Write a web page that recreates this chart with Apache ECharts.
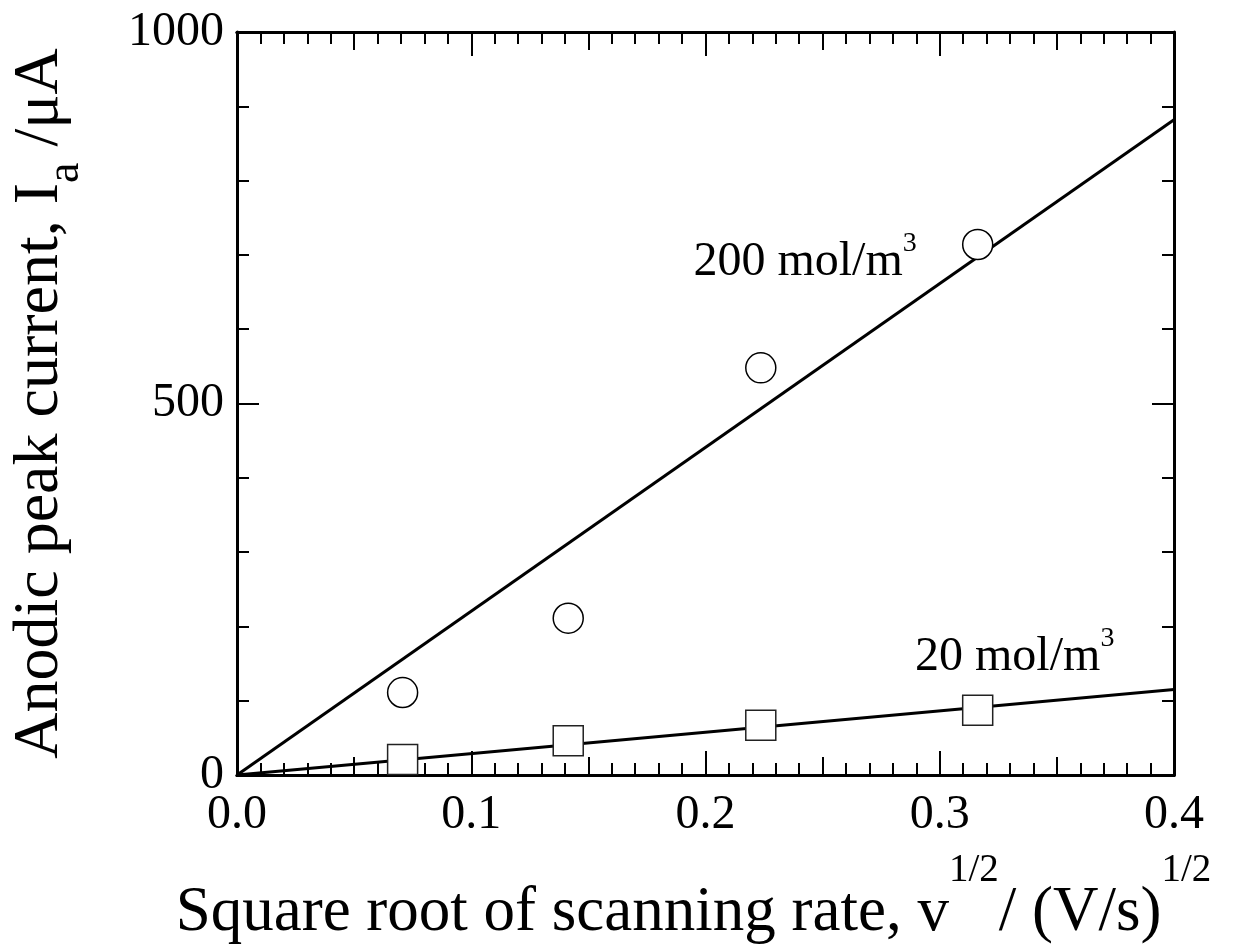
<!DOCTYPE html>
<html>
<head>
<meta charset="utf-8">
<script src="https://cdn.jsdelivr.net/npm/echarts@6/dist/echarts.min.js"></script>
<style>
  html, body { margin: 0; padding: 0; background: #fff; }
  #chart { width: 1242px; height: 950px; }
</style>
</head>
<body>
<div id="chart"></div>
<script>
// Square root of scan rate, (V/s)^1/2
const sqrtScanRate = [0.0707, 0.1414, 0.2236, 0.3162];
// Anodic peak currents, µA
const peak200 = [111, 211, 548, 714];
const peak20 = [21, 46, 67, 87];
// Linear fits through the origin, evaluated at the axis ends
const fitX = [0, 0.4];
const fit200 = [0, 882];
const fit20 = [0, 115];
// Concentration labels: [x, y, text]
const labels = [
  [0.2425, 696, '200 mol/m'],
  [0.332, 164, '20 mol/m']
];

const FONT = '"Liberation Serif", "Times New Roman", serif';
const black = '#000';

function pairs(xs, ys) { return xs.map((x, i) => [x, ys[i]]); }

function xAxis(pos, interval, len, withLabels, minor) {
  return {
    type: 'value', position: pos, min: 0, max: 0.4, interval: interval,
    axisLine: { show: true, onZero: false, lineStyle: { color: black, width: 3 } },
    axisTick: { show: true, inside: true, length: len, lineStyle: { color: black, width: 2 } },
    minorTick: minor ? { show: true, splitNumber: 10, length: 12, lineStyle: { color: black, width: 2 } } : { show: false },
    axisLabel: withLabels ? {
      show: true, fontFamily: FONT, fontSize: 48, lineHeight: 48, color: black, margin: 16,
      formatter: v => v.toFixed(1)
    } : { show: false },
    splitLine: { show: false },
    name: withLabels ? '{t|Square root of scanning rate, v}{s|1/2}{t|/ (V/s)}{s|1/2}' : '',
    nameLocation: 'middle', nameGap: 76,
    nameTextStyle: {
      fontFamily: FONT, color: black, padding: [0, 24, 0, 0],
      rich: {
        t: { fontFamily: FONT, fontSize: 63, color: black, lineHeight: 63, verticalAlign: 'bottom' },
        s: { fontFamily: FONT, fontSize: 39, color: black, lineHeight: 94, verticalAlign: 'top' }
      }
    }
  };
}

function yAxis(pos, withLabels) {
  return {
    type: 'value', position: pos, min: 0, max: 1000, interval: 500,
    axisLine: { show: true, onZero: false, lineStyle: { color: black, width: 3 } },
    axisTick: { show: true, inside: true, length: 22, lineStyle: { color: black, width: 2 } },
    minorTick: { show: true, splitNumber: 5, length: 12, lineStyle: { color: black, width: 2 } },
    axisLabel: withLabels ? {
      show: true, fontFamily: FONT, fontSize: 48, color: black, margin: 13,
      formatter: v => String(v)
    } : { show: false },
    splitLine: { show: false },
    name: withLabels ? '{t|Anodic peak current, I}{b|a}{t| /μA}' : '',
    nameLocation: 'middle', nameRotate: 90, nameGap: 148,
    nameTextStyle: {
      fontFamily: FONT, color: black,
      rich: {
        t: { fontFamily: FONT, fontSize: 64, color: black, lineHeight: 64, verticalAlign: 'top' },
        b: { fontFamily: FONT, fontSize: 46, color: black, lineHeight: 81, verticalAlign: 'bottom' }
      }
    }
  };
}

const chart = echarts.init(document.getElementById('chart'), null, { renderer: 'canvas' });
chart.setOption({
  backgroundColor: '#fff',
  animation: false,
  grid: { left: 233, top: 32, right: 68, bottom: 171, containLabel: false },
  xAxis: [
    xAxis('bottom', 0.1, 24, true, true),
    xAxis('bottom', 0.05, 18, false, false),
    xAxis('top', 0.1, 24, false, true),
    xAxis('top', 0.05, 18, false, false)
  ],
  yAxis: [yAxis('left', true), yAxis('right', false)],
  series: [
    {
      type: 'line', data: pairs(fitX, fit200), symbol: 'none', z: 2,
      lineStyle: { color: black, width: 3 }
    },
    {
      type: 'line', data: pairs(fitX, fit20), symbol: 'none', z: 2,
      lineStyle: { color: black, width: 3 }
    },
    {
      type: 'scatter', data: pairs(sqrtScanRate, peak200), symbol: 'circle', symbolSize: 30, z: 3,
      itemStyle: { color: '#fff', borderColor: black, borderWidth: 1.5, opacity: 1 }
    },
    {
      type: 'scatter', data: pairs(sqrtScanRate, peak20), symbol: 'rect', symbolSize: 30, z: 3,
      itemStyle: { color: '#fff', borderColor: '#222', borderWidth: 1.5, opacity: 1 }
    },
    {
      type: 'scatter', data: labels.map(l => ({ value: [l[0], l[1]], name: l[2] })),
      symbolSize: 0, z: 4, silent: true,
      itemStyle: { opacity: 1 },
      label: {
        show: true, position: 'inside', color: black,
        formatter: p => '{t|' + p.name + '}{s|3}',
        rich: {
          t: { fontFamily: FONT, fontSize: 48, color: black, lineHeight: 48, verticalAlign: 'bottom' },
          s: { fontFamily: FONT, fontSize: 28, color: black, lineHeight: 57, verticalAlign: 'top' }
        }
      }
    }
  ]
});
</script>
</body>
</html>
